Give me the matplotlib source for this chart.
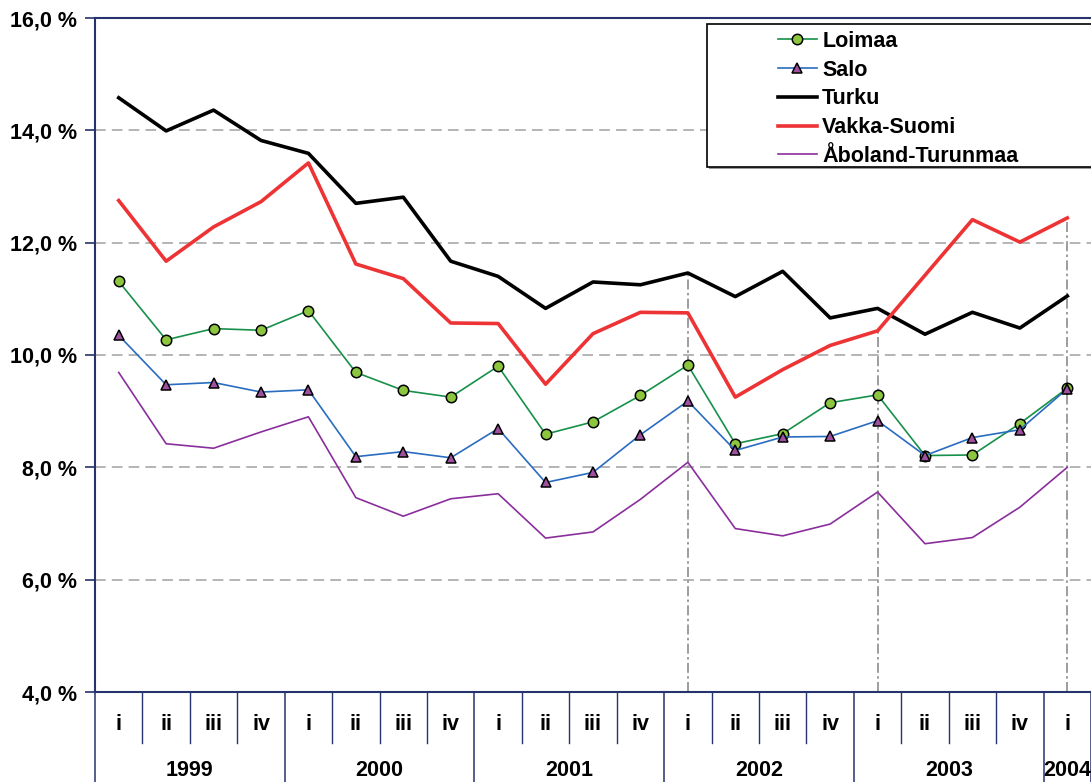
# Työttömyysaste seutukunnittain, neljännesvuosittain 1999-2004
import matplotlib.pyplot as plt
from matplotlib.patches import Rectangle
from matplotlib.ticker import FuncFormatter

plt.rcParams['font.family'] = ['Liberation Sans', 'DejaVu Sans']
plt.rcParams['font.weight'] = 'bold'

# --------------------------------------------------
# data
# --------------------------------------------------
quarters = ["i", "ii", "iii", "iv"] * 5 + ["i"]
years = ["1999", "2000", "2001", "2002", "2003", "2004"]

loimaa = [11.31, 10.27, 10.47, 10.44, 10.79, 9.69, 9.37, 9.25, 9.80, 8.59, 8.81,
          9.28, 9.82, 8.42, 8.60, 9.15, 9.29, 8.21, 8.22, 8.78, 9.41]
salo = [10.35, 9.47, 9.51, 9.34, 9.38, 8.19, 8.28, 8.17, 8.69, 7.73, 7.91,
        8.58, 9.18, 8.30, 8.54, 8.55, 8.83, 8.21, 8.53, 8.67, 9.40]
turku = [14.58, 13.99, 14.36, 13.82, 13.59, 12.70, 12.81, 11.67, 11.40, 10.83, 11.30,
         11.25, 11.46, 11.04, 11.49, 10.66, 10.83, 10.37, 10.76, 10.48, 11.05]
vakka = [12.75, 11.67, 12.28, 12.73, 13.42, 11.62, 11.36, 10.57, 10.56, 9.48, 10.38,
         10.76, 10.75, 9.25, 9.74, 10.17, 10.43, 11.42, 12.41, 12.01, 12.44]
aboland = [9.69, 8.42, 8.34, 8.63, 8.90, 7.46, 7.13, 7.44, 7.53, 6.74, 6.85,
           7.43, 8.09, 6.91, 6.78, 6.99, 7.56, 6.64, 6.75, 7.29, 8.00]

# pystyviivat (2002 i, 2003 i, 2004 i) ja mihin sarjaan ne päättyvät
drop_idx = [12, 16, 20]
drop_to = [turku, vakka, vakka]

NAVY = "#26336e"
FS = 15.5

# --------------------------------------------------
# figure
# --------------------------------------------------
W, H = 1091, 782
fig = plt.figure(figsize=(W / 100, H / 100), dpi=100)
ax = fig.add_axes([95 / W, 90 / H, 996 / W, 674 / H])

x = list(range(len(quarters)))

ax.plot(x, loimaa, color="#17904a", lw=1.2, marker="o", ms=7.5,
        mfc="#8cc63e", mec="black", mew=1.1, label="Loimaa", zorder=3)
ax.plot(x, salo, color="#2a6cc0", lw=1.2, marker="^", ms=7.5,
        mfc="#a050a0", mec="black", mew=1.1, label="Salo", zorder=4)
ax.plot(x, turku, color="black", lw=2.6, label="Turku", zorder=5)
ax.plot(x, vakka, color="#ee3335", lw=2.6, label="Vakka-Suomi", zorder=6)
ax.plot(x, aboland, color="#8a2e9c", lw=1.2, label="Åboland-Turunmaa", zorder=7)

for i, s in zip(drop_idx, drop_to):
    ax.vlines(i, 4.0, s[i], colors="#8c8c8c", lw=1.2,
              linestyles=(0, (6, 2, 1.5, 2)), zorder=2)

ax.set_xlim(-0.5, len(quarters) - 0.5)
ax.set_ylim(4, 16)
ax.set_yticks([4, 6, 8, 10, 12, 14, 16])
ax.yaxis.set_major_formatter(FuncFormatter(lambda v, p: f"{v:.1f} %".replace(".", ",")))
ax.tick_params(axis="y", direction="out", length=7, width=1.2, color=NAVY,
               labelsize=FS, pad=6)
for lab in ax.get_yticklabels():
    lab.set_fontweight("bold")
ax.set_xticks([])

for v in [6, 8, 10, 12, 14]:
    ax.axhline(v, color="#a0a0a0", lw=1.1, ls=(0, (7, 4)), zorder=1)

for side in ["left", "top", "bottom"]:
    ax.spines[side].set_color(NAVY)
    ax.spines[side].set_linewidth(1.5)
ax.spines["right"].set_visible(False)

# --------------------------------------------------
# luokka-akselin taulukko
# --------------------------------------------------
tr = ax.get_xaxis_transform()
q_bottom = -51 / 674
y_bottom = -92 / 674
for k in range(len(quarters) + 1):
    xb = k - 0.5
    if k % 4 == 0 or k == len(quarters):
        ax.plot([xb, xb], [0, y_bottom], transform=tr, color=NAVY, lw=1.1,
                clip_on=False)
    else:
        ax.plot([xb, xb], [0, q_bottom], transform=tr, color=NAVY, lw=1.0,
                clip_on=False)

for i, q in enumerate(quarters):
    ax.text(i, -33 / 674, q, transform=tr, ha="center", va="center",
            fontsize=FS, fontweight="bold")

for j, yr in enumerate(years):
    start = 4 * j
    end = min(start + 4, len(quarters))
    ax.text((start + end - 1) / 2, -78 / 674, yr, transform=tr, ha="center",
            va="center", fontsize=FS, fontweight="bold")

# --------------------------------------------------
# selite (kehys varjoineen + selite)
# --------------------------------------------------
ax.add_patch(Rectangle(((706.7 + 2) / W, (H - 167 - 2) / H), 400 / W, 143 / H,
                       transform=fig.transFigure, facecolor="#9a9a9a",
                       edgecolor="none", zorder=9, clip_on=False))
ax.add_patch(Rectangle((706.7 / W, (H - 167) / H), 400 / W, 143 / H,
                       transform=fig.transFigure, facecolor="white",
                       edgecolor="black", lw=1.2, zorder=10, clip_on=False))
leg = ax.legend(loc="upper left", bbox_to_anchor=(778 / W, 1 - 31 / H),
                bbox_transform=fig.transFigure, frameon=False, borderpad=0,
                borderaxespad=0, handlelength=1.8, handletextpad=0.25,
                labelspacing=0.36, prop={"size": FS, "weight": "bold"})
leg.set_zorder(11)

fig.savefig("out.png", dpi=100)
